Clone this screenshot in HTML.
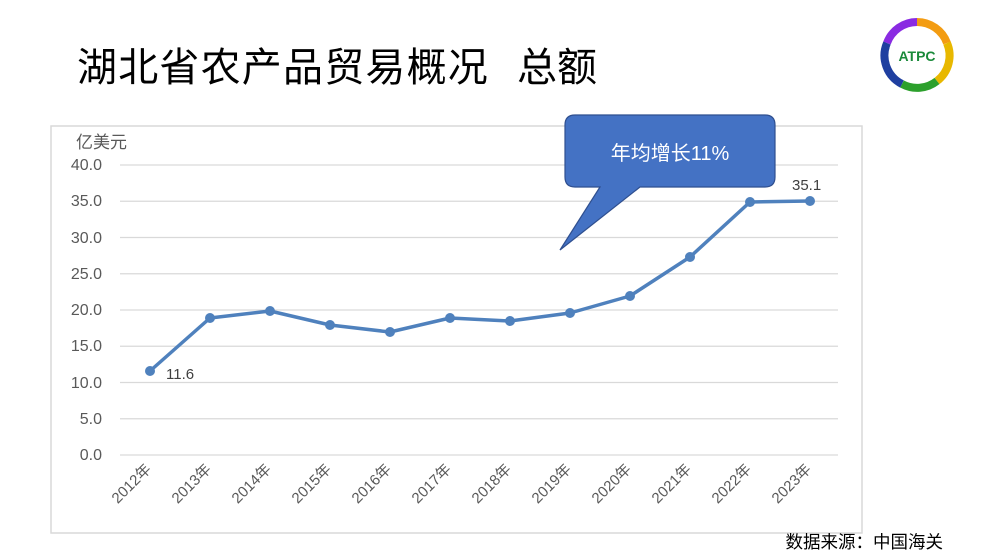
<!DOCTYPE html>
<html><head><meta charset="utf-8"><style>
body{margin:0;width:989px;height:556px;background:#fff;overflow:hidden;font-family:"Liberation Sans","Noto Sans CJK SC",sans-serif;}
</style></head><body>
<svg width="989" height="556" xmlns="http://www.w3.org/2000/svg" style="position:absolute;left:0;top:0">
<text x="77" y="81" font-size="40" letter-spacing="1.2" fill="#000" font-family="Liberation Sans,Noto Sans CJK SC,sans-serif">湖北省农产品贸易概况</text>
<text x="517" y="81" font-size="40" fill="#000" font-family="Liberation Sans,Noto Sans CJK SC,sans-serif">总额</text>
<g transform="translate(917,55)">
<path d="M-30,-12 A32,32 0 0 1 0,-33" stroke="#8a2be2" stroke-width="8" fill="none"/>
<path d="M0,-33 A32,32 0 0 1 30,-12" stroke="#f39c12" stroke-width="8" fill="none"/>
<path d="M30,-12 A32,32 0 0 1 20,26" stroke="#e8b800" stroke-width="8" fill="none"/>
<path d="M20,26 A32,32 0 0 1 -15,29" stroke="#2ca02c" stroke-width="8" fill="none"/>
<path d="M-15,29 A32,32 0 0 1 -30,-12" stroke="#1f3fa0" stroke-width="8" fill="none"/>
<text x="0" y="6" text-anchor="middle" font-size="14" font-weight="bold" fill="#1a8a3a">ATPC</text>
</g>
<rect x="51" y="126" width="811" height="407" fill="none" stroke="#d9d9d9" stroke-width="1.5"/>
<text x="76" y="148" font-size="17" fill="#595959">亿美元</text>
<g stroke="#d9d9d9" stroke-width="1.3">
<line x1="120" x2="838" y1="165" y2="165"/><line x1="120" x2="838" y1="201.25" y2="201.25"/>
<line x1="120" x2="838" y1="237.5" y2="237.5"/><line x1="120" x2="838" y1="273.75" y2="273.75"/>
<line x1="120" x2="838" y1="310" y2="310"/><line x1="120" x2="838" y1="346.25" y2="346.25"/>
<line x1="120" x2="838" y1="382.5" y2="382.5"/><line x1="120" x2="838" y1="418.75" y2="418.75"/>
<line x1="120" x2="838" y1="455" y2="455"/>
</g>
<g font-size="16" fill="#595959" text-anchor="end">
<text x="102" y="170">40.0</text><text x="102" y="206">35.0</text><text x="102" y="243">30.0</text>
<text x="102" y="279">25.0</text><text x="102" y="315">20.0</text><text x="102" y="351">15.0</text>
<text x="102" y="388">10.0</text><text x="102" y="424">5.0</text><text x="102" y="460">0.0</text>
</g>
<g font-size="15" fill="#595959" text-anchor="end">
<text transform="translate(152,470) rotate(-45)">2012年</text>
<text transform="translate(212,470) rotate(-45)">2013年</text>
<text transform="translate(272,470) rotate(-45)">2014年</text>
<text transform="translate(332,470) rotate(-45)">2015年</text>
<text transform="translate(392,470) rotate(-45)">2016年</text>
<text transform="translate(452,470) rotate(-45)">2017年</text>
<text transform="translate(512,470) rotate(-45)">2018年</text>
<text transform="translate(572,470) rotate(-45)">2019年</text>
<text transform="translate(632,470) rotate(-45)">2020年</text>
<text transform="translate(692,470) rotate(-45)">2021年</text>
<text transform="translate(752,470) rotate(-45)">2022年</text>
<text transform="translate(812,470) rotate(-45)">2023年</text>
</g>
<polyline fill="none" stroke="#4f81bd" stroke-width="3.5" stroke-linejoin="round" points="150,371 210,318 270,311 330,325 390,332 450,318 510,321 570,313 630,296 690,257 750,202 810,201"/>
<g fill="#4f81bd">
<circle cx="150" cy="371" r="5"/><circle cx="210" cy="318" r="5"/><circle cx="270" cy="311" r="5"/>
<circle cx="330" cy="325" r="5"/><circle cx="390" cy="332" r="5"/><circle cx="450" cy="318" r="5"/>
<circle cx="510" cy="321" r="5"/><circle cx="570" cy="313" r="5"/><circle cx="630" cy="296" r="5"/>
<circle cx="690" cy="257" r="5"/><circle cx="750" cy="202" r="5"/><circle cx="810" cy="201" r="5"/>
</g>
<text x="166" y="379" font-size="15" fill="#404040">11.6</text>
<text x="792" y="190" font-size="15" fill="#404040">35.1</text>
<path d="M575,115 H765 Q775,115 775,125 V177 Q775,187 765,187 H640 L560,250 L600,187 H575 Q565,187 565,177 V125 Q565,115 575,115 Z" fill="#4472c4" stroke="#2f4f8f" stroke-width="1.2"/>
<text x="670" y="160" font-size="20" fill="#fff" text-anchor="middle">年均增长11%</text>
<text x="943" y="548" font-size="17.5" fill="#000" text-anchor="end">数据来源：中国海关</text>
</svg>
</body></html>
